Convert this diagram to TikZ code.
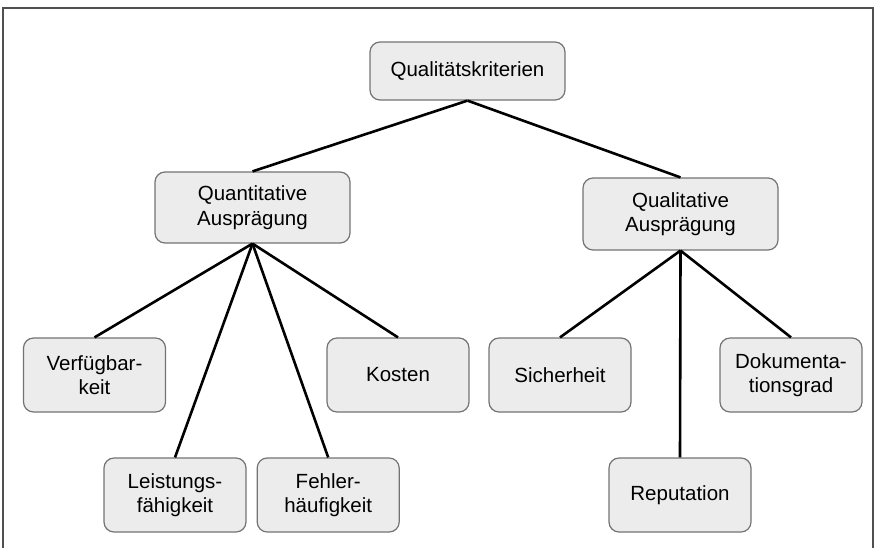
\documentclass[tikz,border=0pt]{standalone}
\usepackage{fontspec}
\setmainfont{Liberation Sans}
\usetikzlibrary{positioning}
\definecolor{boxgray}{RGB}{236,236,236}
\definecolor{rimgray}{RGB}{115,115,115}
\definecolor{framegray}{RGB}{80,80,80}

\begin{document}
\begin{tikzpicture}[x=1pt, y=-1pt, every node/.style={font=\fontsize{20.5}{24.5}\selectfont},
    crit/.style={draw=rimgray, line width=1.2pt, rounded corners=10pt, fill=boxgray, align=center, minimum width=142pt, minimum height=74pt, inner sep=0pt},
    wide/.style={crit, minimum width=195pt, minimum height=71pt},
    link/.style={line width=2.6pt}]
        \useasboundingbox (0,0) rectangle (877,547);
        \draw[framegray, line width=2pt] (3,560) -- (3,8) -- (873,8) -- (873,560);
        \node[wide, minimum height=58pt] (root) at (467.5,71) {Qualitätskriterien};
        \node[wide] (quant) at (252.5,207.5) {Quantitative\\Ausprägung};
        \node[wide, minimum height=72pt] (qual) at (680.5,214) {Qualitative\\Ausprägung};
        \node[crit] (verf) at (94.5,375) {Verfügbar-\\keit};
        \node[crit] (kost) at (398,375) {Kosten};
        \node[crit] (sich) at (560,375) {Sicherheit};
        \node[crit] (doku) at (791,375) {Dokumenta-\\tionsgrad};
        \node[crit] (leist) at (175,495) {Leistungs-\\fähigkeit};
        \node[crit, right=10pt of leist] (fehl) {Fehler-\\häufigkeit};
        \node[crit] (repu) at (680,495) {Reputation};
        \draw[link] (root.south) -- (quant.north);
        \draw[link] (root.south) -- (qual.north);
        \draw[link] (quant.south) -- (verf.north);
        \draw[link] (quant.south) -- (leist.north);
        \draw[link] (quant.south) -- (fehl.north);
        \draw[link] (quant.south) -- (kost.north);
        \draw[link] (qual.south) -- (sich.north);
        \draw[link] (qual.south) -- (repu.north);
        \draw[link] (qual.south) -- (doku.north);
      \end{tikzpicture}
\end{document}
